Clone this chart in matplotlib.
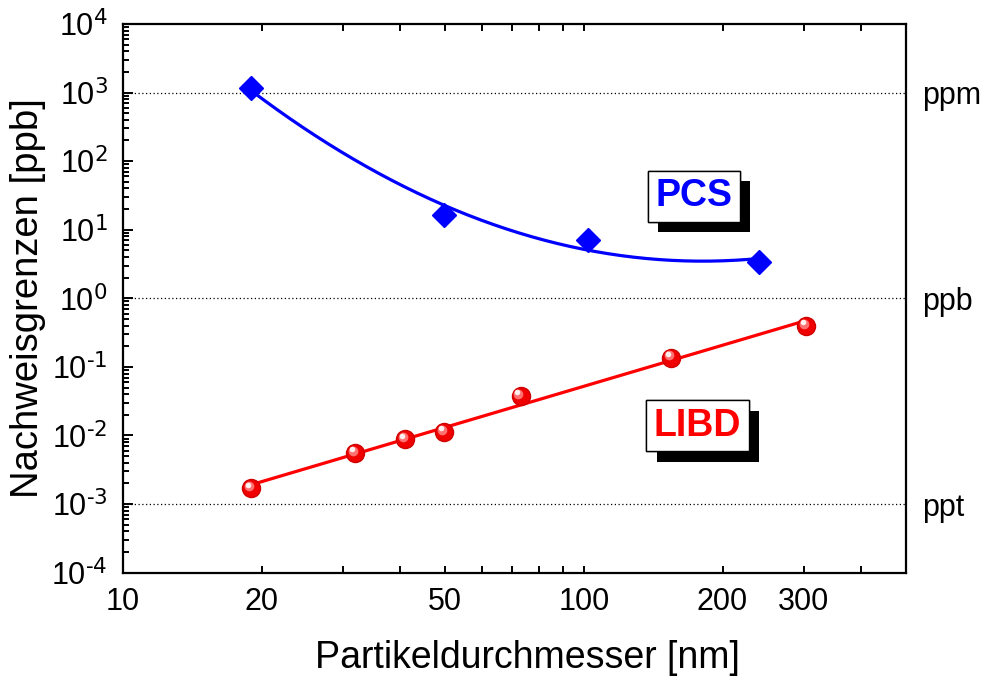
import numpy as np
import matplotlib
matplotlib.use("Agg")
import matplotlib.pyplot as plt
import matplotlib.patheffects as pe
import matplotlib.transforms as mtransforms
from matplotlib.ticker import FixedLocator, NullLocator, LogLocator, NullFormatter

plt.rcParams['font.family'] = ['Liberation Sans', 'DejaVu Sans']
plt.rcParams['mathtext.default'] = 'regular'

# data
pcs_d = [19.0, 49.8, 102.0, 239.5]
pcs_lim = [1155.0, 16.4, 7.1, 3.43]
libd_d = [19.0, 31.9, 41.0, 49.8, 72.9, 154.8, 303.5]
libd_lim = [0.0017, 0.0056, 0.0088, 0.0114, 0.0378, 0.137, 0.396]

x_ticks = [10, 20, 30, 40, 50, 60, 70, 80, 90, 100, 200, 300, 400]
x_labels = ['10', '20', '', '', '50', '', '', '', '', '100', '200', '300', '']
y_decades = [-4, -3, -2, -1, 0, 1, 2, 3, 4]
unit_levels = [1e3, 1.0, 1e-3]
unit_names = ['ppm', 'ppb', 'ppt']

fig = plt.figure(figsize=(9.89, 6.79), dpi=100)
ax = fig.add_axes([0.1244, 0.1566, 0.7916, 0.8081])
ax.set_xscale('log')
ax.set_yscale('log')
ax.set_xlim(10, 500)
ax.set_ylim(1e-4, 1e4)

# reference levels
for lev in unit_levels:
    ax.axhline(lev, color='k', ls=(0, (1, 2)), lw=0.9, zorder=1)

# fits in log-log space
lx = np.log10(pcs_d)
p = np.polyfit(lx, np.log10(pcs_lim), 2)
xx = np.linspace(lx[0], lx[-1], 200)
ax.plot(10**xx, 10**np.polyval(p, xx), color='#0000ff', lw=2.3, zorder=2)

lx2 = np.log10(libd_d)
q = np.polyfit(lx2, np.log10(libd_lim), 1)
xx2 = np.linspace(lx2[0], lx2[-1], 50)
ax.plot(10**xx2, 10**np.polyval(q, xx2), color='#ff0000', lw=2.3, zorder=2)

# markers
ax.plot(pcs_d, pcs_lim, ls='none', marker='D', ms=12, color='#0000ff', zorder=3)
ax.plot(libd_d, libd_lim, ls='none', marker='o', ms=13, color='#f00000',
        markeredgecolor='#d00000', zorder=3)
hl1 = mtransforms.offset_copy(ax.transData, fig=fig, x=-1.5, y=1.5, units='points')
hl2 = mtransforms.offset_copy(ax.transData, fig=fig, x=-2.5, y=2.5, units='points')
ax.plot(libd_d, libd_lim, ls='none', marker='o', ms=7, color='#ff7070', mew=0,
        transform=hl1, zorder=4)
ax.plot(libd_d, libd_lim, ls='none', marker='o', ms=4, color='#fff0f0', mew=0,
        transform=hl2, zorder=5)

# ticks
ax.xaxis.set_major_locator(FixedLocator(x_ticks))
ax.xaxis.set_major_formatter(plt.FixedFormatter(x_labels))
ax.xaxis.set_minor_locator(NullLocator())
ax.yaxis.set_major_locator(FixedLocator([10.0**e for e in y_decades]))
ax.yaxis.set_major_formatter(plt.FixedFormatter([r'$10^{\text{%d}}$' % e for e in y_decades]))
ax.yaxis.set_minor_locator(LogLocator(base=10, subs=np.arange(2, 10), numticks=20))
ax.yaxis.set_minor_formatter(NullFormatter())
ax.tick_params(which='both', direction='in', top=True, right=True, width=1.4,
               labelsize=22, pad=11)
ax.tick_params(axis='y', which='major', length=7)
ax.tick_params(axis='y', which='minor', length=4)
ax.tick_params(axis='x', which='major', length=5, pad=10)
for s in ax.spines.values():
    s.set_linewidth(1.6)

ax.set_xlabel('Partikeldurchmesser [nm]', fontsize=27, labelpad=17, x=0.517)
ax.set_ylabel('Nachweisgrenzen [ppb]', fontsize=27.5, labelpad=4)

# unit labels on the right
ax2 = ax.twinx()
ax2.set_yscale('log')
ax2.set_ylim(ax.get_ylim())
ax2.yaxis.set_major_locator(FixedLocator(unit_levels))
ax2.yaxis.set_major_formatter(plt.FixedFormatter(unit_names))
ax2.yaxis.set_minor_locator(NullLocator())
ax2.tick_params(axis='y', length=0, labelsize=22, pad=12)
ax2.spines[:].set_visible(False)

# boxed labels with shadow
for txt, col, xy in [('PCS', '#0000ff', (0.729, 0.686)), ('LIBD', '#ff0000', (0.734, 0.268))]:
    t = ax.text(xy[0], xy[1], txt, transform=ax.transAxes, color=col, fontsize=27,
                fontweight='bold', ha='center', va='center', zorder=6,
                bbox=dict(boxstyle='square,pad=0.2', fc='white', ec='k', lw=1.0))
    t.get_bbox_patch().set_path_effects([
        pe.withSimplePatchShadow(offset=(7.5, -7.5), shadow_rgbFace='k', alpha=1.0),
        pe.Normal()])

fig.savefig('out.png', dpi=100)
